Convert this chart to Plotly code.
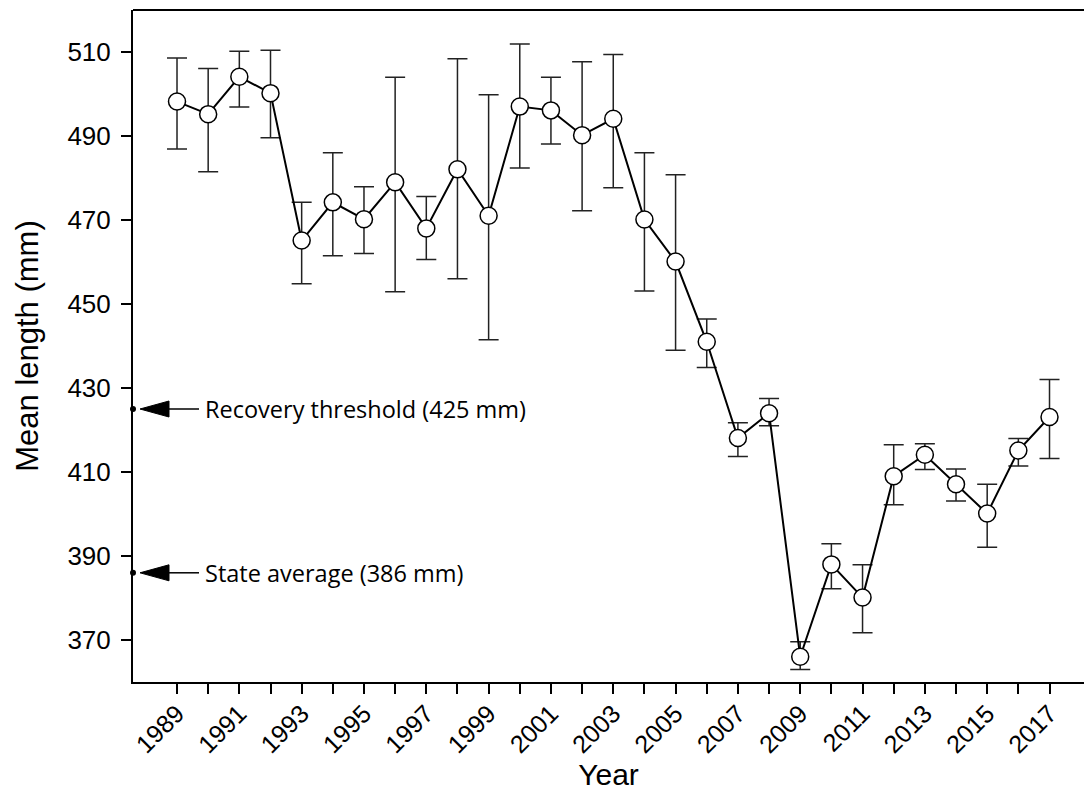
import plotly.graph_objects as go

# ---- data ----
years = list(range(1989, 2018))
mean_length = [498.2, 495.2, 504.1, 500.2, 465.1, 474.2, 470.2, 479.0, 468.0, 482.1,
               471.0, 497.0, 496.1, 490.2, 494.1, 470.1, 460.1, 441.0, 418.1, 424.0,
               366.0, 388.0, 380.1, 409.0, 414.1, 407.1, 400.1, 415.1, 423.1]
upper = [508.6, 506.1, 510.2, 510.4, 474.2, 486.0, 477.9, 504.0, 475.6, 508.4,
         499.8, 511.9, 504.0, 507.7, 509.4, 486.0, 480.8, 446.4, 421.7, 427.5,
         369.6, 392.9, 387.9, 416.5, 416.7, 410.7, 407.1, 418.0, 432.0]
lower = [486.9, 481.5, 496.9, 489.6, 454.8, 461.5, 462.0, 452.9, 460.6, 456.0,
         441.5, 482.4, 488.1, 472.2, 477.7, 453.1, 439.0, 434.9, 413.7, 421.0,
         363.0, 382.2, 371.7, 402.2, 410.6, 403.1, 392.1, 411.4, 413.2]
ref_values = [425, 386]
ref_labels = ["Recovery threshold (425 mm)", "State average (386 mm)"]
y_ticks = [370, 390, 410, 430, 450, 470, 490, 510]
x_tick_labels = [str(y) if (y - 1989) % 2 == 0 else "" for y in years]

err_plus = [u - m for u, m in zip(upper, mean_length)]
err_minus = [m - l for m, l in zip(mean_length, lower)]

AX_FONT = "Liberation Sans, Arial, sans-serif"

fig = go.Figure()
fig.add_trace(go.Scatter(
    x=years, y=mean_length, mode="lines+markers",
    line=dict(color="black", width=2),
    marker=dict(size=17, color="white", line=dict(color="black", width=1.5)),
    error_y=dict(type="data", symmetric=False, array=err_plus, arrayminus=err_minus,
                 color="#222222", thickness=1.5, width=10),
    showlegend=False, cliponaxis=False,
))

PLOT_W = 1084 - 133
shapes = [
    # top frame line
    dict(type="line", xref="paper", yref="paper", x0=0, x1=1, y0=1, y1=1,
         line=dict(color="black", width=2)),
]
annotations = []
for v, lab in zip(ref_values, ref_labels):
    # dot on axis
    shapes.append(dict(type="circle", xref="paper", yref="y",
                       xsizemode="pixel", ysizemode="pixel", xanchor=0, yanchor=v,
                       x0=-3, x1=3, y0=-3, y1=3,
                       fillcolor="black", line=dict(color="black", width=0)))
    # arrow head (filled, long and narrow)
    tip = 7 / PLOT_W
    base = 36 / PLOT_W
    half = 8 / 4.2
    shapes.append(dict(type="path", xref="paper", yref="y",
                       path=f"M {tip} {v} L {base} {v + half} L {base} {v - half} Z",
                       fillcolor="black", line=dict(color="black", width=1)))
    # arrow shaft
    shapes.append(dict(type="line", xref="paper", yref="y",
                       x0=base, x1=66 / PLOT_W, y0=v, y1=v,
                       line=dict(color="black", width=1.5)))
    annotations.append(dict(text=lab, xref="paper", yref="y", x=70 / PLOT_W, y=v,
                            xanchor="left", yanchor="middle", showarrow=False,
                            font=dict(family="Open Sans, sans-serif", size=23.5, color="black")))

fig.update_layout(
    width=1084, height=797,
    margin=dict(l=133, r=0, t=10, b=115),
    paper_bgcolor="white", plot_bgcolor="white",
    font=dict(family=AX_FONT, color="black"),
    shapes=shapes, annotations=annotations,
    xaxis=dict(range=[1987.5875, 2018.107], tickmode="array", tickvals=years,
               ticktext=x_tick_labels, tickangle=-45, ticks="outside", ticklen=10,
               tickwidth=1.5, tickcolor="black", showline=True, linecolor="black",
               linewidth=2, showgrid=False, zeroline=False,
               tickfont=dict(size=25, family=AX_FONT), ticklabelstandoff=-5,
               title=dict(text="Year", font=dict(size=30, family=AX_FONT), standoff=6)),
    yaxis=dict(range=[360, 520], tickmode="array", tickvals=y_ticks,
               ticks="outside", ticklen=10, tickwidth=1.5, tickcolor="black",
               showline=True, linecolor="black", linewidth=2, showgrid=False,
               zeroline=False, tickfont=dict(size=26, family=AX_FONT),
               ticklabelstandoff=5,
               title=dict(text="Mean length (mm)", font=dict(size=31, family=AX_FONT),
                          standoff=20)),
)

fig.write_html("out.html")
